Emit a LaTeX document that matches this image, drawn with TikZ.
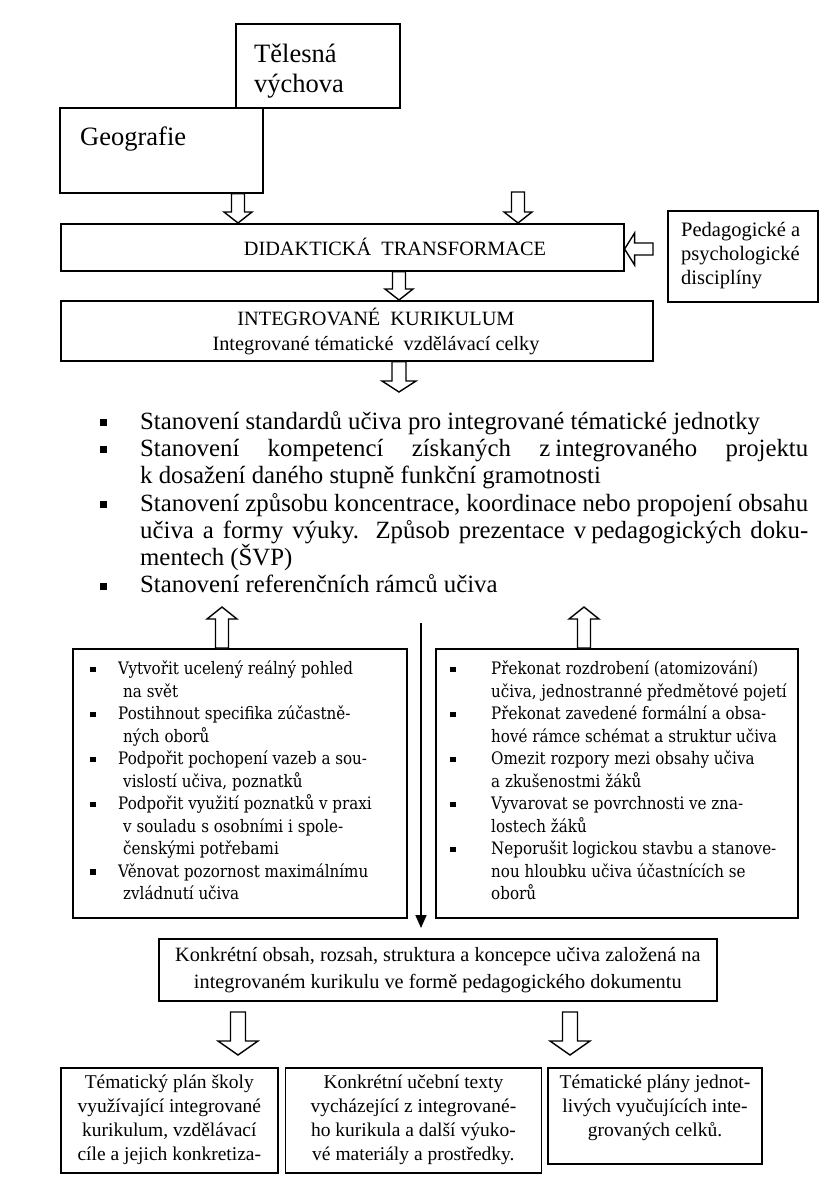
\documentclass[tikz,border=0pt]{standalone}
\usepackage{fontspec}
\setmainfont{Liberation Serif}
\newfontfamily\boxfont[FakeStretch=0.88]{DejaVu Serif}
\usetikzlibrary{arrows.meta,calc,positioning}

% bullets and justified lines
\newcommand{\bigbul}{\makebox[40pt][l]{\rule[3pt]{7pt}{7pt}}}
\newcommand{\bigind}{\hspace*{40pt}}
\newcommand{\jline}[1]{\makebox[668pt][s]{#1}}
\newcommand{\sqb}[1]{\makebox[#1][l]{\rule[2.5pt]{5.5pt}{5.5pt}}}
\newcommand{\doctext}[3]{\parbox[c][#1][t]{#2}{\centering #3}}

\begin{document}
\begin{tikzpicture}[
x=1pt,y=-1pt,
box/.style={rectangle,draw=black,line width=1.6pt,inner sep=0pt},
capt/.style={font=\fontsize{20.3}{25}\selectfont,inner sep=0pt},
subj/.style={font=\fontsize{26.5}{30}\selectfont,inner sep=0pt,align=left},
listtxt/.style={font=\boxfont\fontsize{17.2}{22.5}\selectfont,inner sep=0pt,align=left,anchor=north west},
doc/.style={box,anchor=north west,font=\fontsize{19.5}{24}\selectfont},
fat/.style n args={3}{draw=black,line width=1.4pt,fill=white,
  to path={($(\tikztostart)!#1!90:(\tikztotarget)$)
    -- ($($(\tikztotarget)!#3!(\tikztostart)$)!#1!90:(\tikztotarget)$)
    -- ($($(\tikztotarget)!#3!(\tikztostart)$)!#2!90:(\tikztotarget)$)
    -- (\tikztotarget)
    -- ($($(\tikztotarget)!#3!(\tikztostart)$)!#2!-90:(\tikztotarget)$)
    -- ($($(\tikztotarget)!#3!(\tikztostart)$)!#1!-90:(\tikztotarget)$)
    -- ($(\tikztostart)!#1!-90:(\tikztotarget)$) -- cycle}},
smallarr/.style={fat={6.5pt}{14pt}{11pt}},
midarr/.style={fat={7pt}{17pt}{11pt}},
bigarr/.style={fat={7.5pt}{20pt}{14pt}}
]
\useasboundingbox (0,0) rectangle (822,1184);

% subjects
\node[box,anchor=north west,minimum width=164pt,minimum height=84pt] (tel) at (235,23) {};
\node[subj,anchor=base west] (teltxt) at (254,92) {Tělesná\\výchova};
\node[box,anchor=north west,minimum width=203pt,minimum height=85pt] (geo) at (59,107) {};
\node[subj,anchor=base west] (geotxt) at (80,145) {Geografie};

% transformation
\node[box,anchor=north west,minimum width=563pt,minimum height=47pt] (didakt) at (60,223) {};
\node[capt] (didtxt) at (395,247) {DIDAKTICKÁ\ \ TRANSFORMACE};
\node[box,anchor=north west,minimum width=150pt,minimum height=91pt] (ped) at (667,210) {};
\node[capt,anchor=west,align=left,font=\fontsize{20.5}{24}\selectfont] (pedtxt) at (681,256) {Pedagogické a\\psychologické\\disciplíny};
\node[box,anchor=north west,minimum width=592pt,minimum height=60pt] (integ) at (60,300) {};
\node[capt,align=center] (integtxt) at (376,331) {INTEGROVANÉ\ \ KURIKULUM\\Integrované tématické\ \ vzdělávací celky};

\coordinate (t1) at (238,192);
\coordinate (t2) at (518,192);
\coordinate (pt) at (653,249);
\coordinate (d1) at (399,270);
\coordinate (it) at (399,392);
\draw[smallarr] (t1 |- geo.south) to (t1 |- didakt.north);
\draw[smallarr] (t2) to (t2 |- didakt.north);
\draw[fat={6pt}{16pt}{10pt}] (pt) to (pt -| didakt.east);
\draw[smallarr] (d1 |- didakt.south) to (d1 |- integ.north);
\draw[midarr] (it |- integ.south) to (it);

% standards
\node[anchor=north west,inner sep=0pt,align=left,font=\fontsize{24.8}{27.3}\selectfont] (steps) at (100,411) {%
\bigbul Stanovení standardů učiva pro integrované tématické jednotky\\
\bigbul\jline{Stanovení kompetencí získaných z\hspace{5pt}integrovaného projektu}\\
\bigind k dosažení daného stupně funkční gramotnosti\\
\bigbul\jline{Stanovení způsobu koncentrace, koordinace nebo propojení obsahu}\\
\bigind\jline{učiva a formy výuky. Způsob prezentace v\hspace{5pt}pedagogických doku-}\\
\bigind mentech (ŠVP)\\
\bigbul Stanovení referenčních rámců učiva};

% aims
\node[box,anchor=north west,minimum width=334pt,minimum height=269pt] (lbox) at (72,648) {};
\node[listtxt] (ltxt) at (90,661) {%
\sqb{28pt}Vytvořit ucelený reálný pohled\\
\hspace*{33pt}na svět\\
\sqb{28pt}Postihnout specifika zúčastně-\\
\hspace*{33pt}ných oborů\\
\sqb{28pt}Podpořit pochopení vazeb a sou-\\
\hspace*{33pt}vislostí učiva, poznatků\\
\sqb{28pt}Podpořit využití poznatků v praxi\\
\hspace*{33pt}v souladu s osobními i spole-\\
\hspace*{33pt}čenskými potřebami\\
\sqb{28pt}Věnovat pozornost maximálnímu\\
\hspace*{33pt}zvládnutí učiva};
\node[box,anchor=north west,minimum width=362pt,minimum height=269pt] (rbox) at (435,648) {};
\node[listtxt] (rtxt) at (450,661) {%
\sqb{41pt}Překonat rozdrobení (atomizování)\\
\hspace*{41pt}učiva, jednostranné předmětové pojetí\\
\sqb{41pt}Překonat zavedené formální a obsa-\\
\hspace*{41pt}hové rámce schémat a struktur učiva\\
\sqb{41pt}Omezit rozpory mezi obsahy učiva\\
\hspace*{41pt}a zkušenostmi žáků\\
\sqb{41pt}Vyvarovat se povrchnosti ve zna-\\
\hspace*{41pt}lostech žáků\\
\sqb{41pt}Neporušit logickou stavbu a stanove-\\
\hspace*{41pt}nou hloubku učiva účastnících se\\
\hspace*{41pt}oborů};

\coordinate (u1) at (222,607);
\coordinate (u2) at (584,607);
\draw[fat={6.5pt}{15pt}{12pt}] (u1 |- lbox.north) to (u1);
\draw[fat={6.5pt}{15pt}{12pt}] (u2 |- rbox.north) to (u2);

% result
\node[box,anchor=north west,minimum width=558pt,minimum height=62pt,capt,align=center,font=\fontsize{20.3}{27}\selectfont] (konk) at (158,938) {Konkrétní obsah, rozsah, struktura a koncepce učiva založená na\\integrovaném kurikulu ve formě pedagogického dokumentu};
\coordinate (vtop) at (421,623);
\draw[line width=1.6pt,-{Triangle[length=13pt,width=11pt]}] (vtop) -- ($(vtop |- konk.north)+(0,-10)$);

% documents
\node[doc,minimum width=217pt,minimum height=105pt] (doc1) at (60,1067) {\doctext{91pt}{211pt}{Tématický plán školy\\využívající integrované\\kurikulum, vzdělávací\\cíle a jejich konkretiza-}};
\node[doc,minimum width=256pt,minimum height=105pt,right=6pt of doc1.north east,anchor=north west] (doc2) {\doctext{91pt}{250pt}{Konkrétní učební texty\\vycházející z integrované-\\ho kurikula a další výuko-\\vé materiály a prostředky.}};
\node[doc,minimum width=214pt,minimum height=96pt,right=5pt of doc2.north east,anchor=north west] (doc3) {\doctext{82pt}{208pt}{Tématické plány jednot-\\livých vyučujících inte-\\grovaných celků.}};

\coordinate (b1) at (238,1012);
\coordinate (b2) at (570,1012);
\draw[bigarr] (b1) to ($(b1 |- doc1.north)+(0,-12)$);
\draw[bigarr] (b2) to ($(b2 |- doc1.north)+(0,-12)$);
\end{tikzpicture}
\end{document}
